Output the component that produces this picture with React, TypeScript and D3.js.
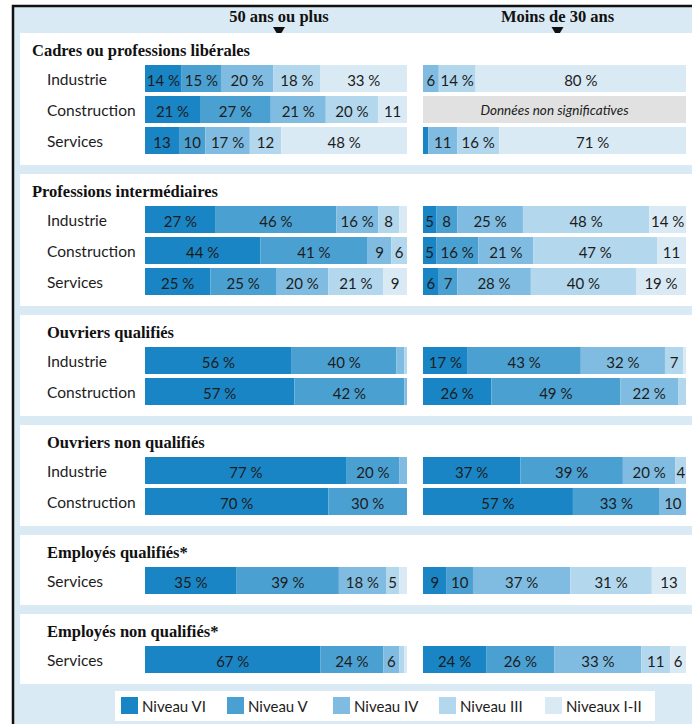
import * as d3 from "d3";

const levels = ["Niveau VI", "Niveau V", "Niveau IV", "Niveau III", "Niveaux I-II"];
const levelColors = ["#1a85c5", "#4ba0d2", "#80bce1", "#b3d7ed", "#d9eaf5"];
const ageColumns = ["50 ans ou plus", "Moins de 30 ans"];

const groupTitles = [
  "Cadres ou professions libérales",
  "Professions intermédiaires",
  "Ouvriers qualifiés",
  "Ouvriers non qualifiés",
  "Employés qualifiés*",
  "Employés non qualifiés*",
];
const groupSectors = [
  ["Industrie", "Construction", "Services"],
  ["Industrie", "Construction", "Services"],
  ["Industrie", "Construction"],
  ["Industrie", "Construction"],
  ["Services"],
  ["Services"],
];

// shares by level (VI, V, IV, III, I-II); null = données non significatives
const cadresOld = [[14, 15, 20, 18, 33], [21, 27, 21, 20, 11], [13, 10, 17, 12, 48]];
const cadresYoung = [[0, 0, 6, 14, 80], null, [2, 0, 11, 16, 71]];
const intermOld = [[27, 46, 16, 8, 3], [44, 41, 9, 6, 0], [25, 25, 20, 21, 9]];
const intermYoung = [[5, 8, 25, 48, 14], [5, 16, 21, 47, 11], [6, 7, 28, 40, 19]];
const ouvQualOld = [[56, 40, 3, 1, 0], [57, 42, 1, 0, 0]];
const ouvQualYoung = [[17, 43, 32, 7, 1], [26, 49, 22, 3, 0]];
const ouvNonQualOld = [[77, 20, 3, 0, 0], [70, 30, 0, 0, 0]];
const ouvNonQualYoung = [[37, 39, 20, 4, 0], [57, 33, 10, 0, 0]];
const empQualOld = [[35, 39, 18, 5, 3]];
const empQualYoung = [[9, 10, 37, 31, 13]];
const empNonQualOld = [[67, 24, 6, 2, 1]];
const empNonQualYoung = [[24, 26, 33, 11, 6]];

const oldValues = [cadresOld, intermOld, ouvQualOld, ouvNonQualOld, empQualOld, empNonQualOld];
const youngValues = [cadresYoung, intermYoung, ouvQualYoung, ouvNonQualYoung, empQualYoung, empNonQualYoung];

const W = 692;
const H = 724;
const sans = "Lato, 'Open Sans', sans-serif";
const serif = "'Liberation Serif', 'DejaVu Serif', serif";
const ink = "#1c1c1c";

const label = (v: number) => (v >= 14 ? `${v} %` : v >= 4 ? `${v}` : "");

export default function App() {
  const xs = [
    d3.scaleLinear().domain([0, 100]).range([145, 407]),
    d3.scaleLinear().domain([0, 100]).range([423, 686]),
  ];
  const barH = 27;
  const step = 31;

  // panel layout
  let top = 33;
  const panels = groupTitles.map((title, g) => {
    const n = groupSectors[g].length;
    const barTop = top + 32;
    const bottom = barTop + step * n + 7;
    const p = { title, g, top, barTop, bottom, indent: g < 2 ? 32 : 47 };
    top = bottom + 9;
    return p;
  });

  const legendX = d3.scaleBand().domain(levels).range([121, 651]);

  return (
    <svg width={W} height={H} style={{ position: "absolute", left: 0, top: 0 }}>
      <rect x={13} y={6} width={W - 13} height={H - 6} fill="#d9eaf5" />
      <path d={`M13,${H} V6 H${W}`} fill="none" stroke="#111" strokeWidth={2.5} />

      {ageColumns.map((c, i) => {
        const cx = (xs[i].range()[0] + xs[i].range()[1]) / 2 + 3;
        return (
          <g key={c}>
            <text x={cx} y={22} textAnchor="middle" fontFamily={serif} fontWeight="bold" fontSize={16.5} fill="#111">
              {c}
            </text>
            <path d={`M${cx - 6},27 H${cx + 6} L${cx},37 Z`} fill="#111" />
          </g>
        );
      })}

      {panels.map((p) => (
        <g key={p.title}>
          <rect x={20} y={p.top} width={W - 20} height={p.bottom - p.top} fill="#fff" />
          <text x={p.indent} y={p.top + 23} fontFamily={serif} fontWeight="bold" fontSize={16.5} fill="#111">
            {p.title}
          </text>
          {groupSectors[p.g].map((s, r) => {
            const y = p.barTop + r * step;
            return (
              <g key={s}>
                <text x={47} y={y + barH / 2} dominantBaseline="central" fontFamily={sans} fontSize={15.5} fill={ink}>
                  {s}
                </text>
                {[oldValues[p.g][r], youngValues[p.g][r]].map((vals, c) => {
                  const x = xs[c];
                  if (!vals) {
                    return (
                      <g key={c}>
                        <rect x={x(0)} y={y} width={x(100) - x(0)} height={barH} fill="#e1e1e1" />
                        <text x={(x(0) + x(100)) / 2} y={y + barH / 2} dominantBaseline="central" textAnchor="middle"
                          fontFamily={sans} fontStyle="italic" fontSize={13.5} fill={ink}>
                          Données non significatives
                        </text>
                      </g>
                    );
                  }
                  const cum = d3.cumsum(vals);
                  return (
                    <g key={c}>
                      {vals.map((v, k) => {
                        const x0 = x(cum[k] - v);
                        const x1 = x(cum[k]);
                        return v > 0 ? (
                          <rect key={k} x={x0} y={y} width={x1 - x0} height={barH} fill={levelColors[k]} />
                        ) : null;
                      })}
                      {vals.map((v, k) => {
                        const x0 = x(cum[k] - v);
                        const x1 = x(cum[k]);
                        return (
                          <text key={"t" + k} x={(x0 + x1) / 2} y={y + barH / 2 + 1} dominantBaseline="central"
                            textAnchor="middle" fontFamily={sans} fontSize={15} fill={ink}>
                            {label(v)}
                          </text>
                        );
                      })}
                    </g>
                  );
                })}
              </g>
            );
          })}
        </g>
      ))}

      <rect x={115} y={691} width={540} height={30} fill="#fff" />
      {levels.map((l, i) => (
        <g key={l} transform={`translate(${legendX(l)},697)`}>
          <rect width={17} height={17} fill={levelColors[i]} />
          <text x={21} y={9} dominantBaseline="central" fontFamily={sans} fontSize={15} fill={ink}>
            {l}
          </text>
        </g>
      ))}
    </svg>
  );
}
